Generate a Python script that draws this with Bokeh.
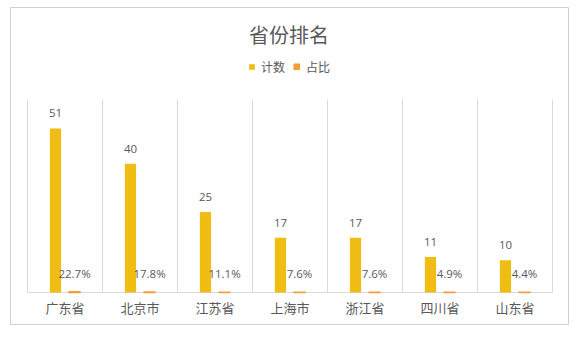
from bokeh.plotting import figure
from bokeh.models import ColumnDataSource, Range1d, Label, Legend, LegendItem
from bokeh.core.properties import value
from bokeh.embed import file_html
from bokeh.resources import INLINE

categories = ["广东省", "北京市", "江苏省", "上海市", "浙江省", "四川省", "山东省"]
counts = [51, 40, 25, 17, 17, 11, 10]
shares = [0.227, 0.178, 0.111, 0.076, 0.076, 0.049, 0.044]
share_labels = ["22.7%", "17.8%", "11.1%", "7.6%", "7.6%", "4.9%", "4.4%"]
series_names = ["计数", "占比"]
title_text = "省份排名"
y_max = 60

FONT = "Noto Sans CJK SC"
GREY = "#595959"
C_COUNT = "#F0BD14"
C_SHARE = "#F59D36"
GRID = "#d9d9d9"

n = len(categories)
centers = [i + 0.5 for i in range(n)]
bounds = list(range(n + 1))
off = 0.127
bw = 0.15

src = ColumnDataSource(dict(
    xc=[c - off for c in centers],
    xs=[c + off for c in centers],
    xm=centers,
    cat=categories,
    counts=counts,
    shares=shares,
    count_txt=[str(v) for v in counts],
    share_txt=share_labels,
))

# frame = outer chart box (page x 10..568, y 7..324); plot area x 27..552, y 99..292
px_per_x = 75.0
px_per_y = 193.0 / y_max
p = figure(width=581, height=338, output_backend="svg", toolbar_location=None,
           x_range=Range1d(-17 / px_per_x, n + 16 / px_per_x),
           y_range=Range1d(-32 / px_per_y, 285 / px_per_y),
           min_border_left=10, min_border_right=13, min_border_top=7, min_border_bottom=14)
p.xaxis.visible = False
p.yaxis.visible = False
p.grid.visible = False
p.outline_line_color = "#d0d0d0"
p.outline_line_width = 1
p.background_fill_color = "white"
p.border_fill_color = "white"

# category separators and baseline
p.segment(x0=bounds, y0=[0] * len(bounds), x1=bounds, y1=[y_max] * len(bounds),
          line_color=GRID, line_width=1)
p.segment(x0=[0], y0=[0], x1=[n], y1=[0], line_color=GRID, line_width=1)

r1 = p.vbar(x="xc", top="counts", width=bw, source=src, fill_color=C_COUNT, line_color=None)
r2 = p.vbar(x="xs", top="shares", width=bw, source=src, fill_color=C_SHARE,
            line_color=C_SHARE, line_width=1.5)

p.text(x="xc", y="counts", text="count_txt", source=src, text_align="center",
       text_baseline="bottom", y_offset=-11, text_font=value("Open Sans"),
       text_font_size="11.5px", text_color=GREY)
p.text(x="xs", y="shares", text="share_txt", source=src, text_align="center",
       text_baseline="bottom", y_offset=-11, text_font=value("Open Sans"),
       text_font_size="11.5px", text_color=GREY)

# category labels
p.text(x="xm", y=0, text="cat", source=src, text_align="center",
       text_baseline="middle", y_offset=15, text_font=value(FONT),
       text_font_size="13px", text_color=GREY)

# title (screen units relative to the frame's bottom-left)
p.add_layout(Label(x=278.5, y=290, x_units="screen", y_units="screen", text=title_text,
                   text_align="center", text_baseline="middle", text_font=FONT,
                   text_font_size="20px", text_color=GREY))

legend = Legend(items=[LegendItem(label=series_names[0], renderers=[r1]),
                       LegendItem(label=series_names[1], renderers=[r2])],
                orientation="horizontal", location=(238, 249),
                label_text_font=FONT, label_text_font_size="12px", label_text_color=GREY,
                label_height=14, glyph_width=7, glyph_height=7, spacing=8, label_standoff=6,
                padding=0, margin=0, border_line_color=None, background_fill_alpha=0)
p.add_layout(legend, "center")

open("out.html", "w").write(file_html(p, INLINE))
